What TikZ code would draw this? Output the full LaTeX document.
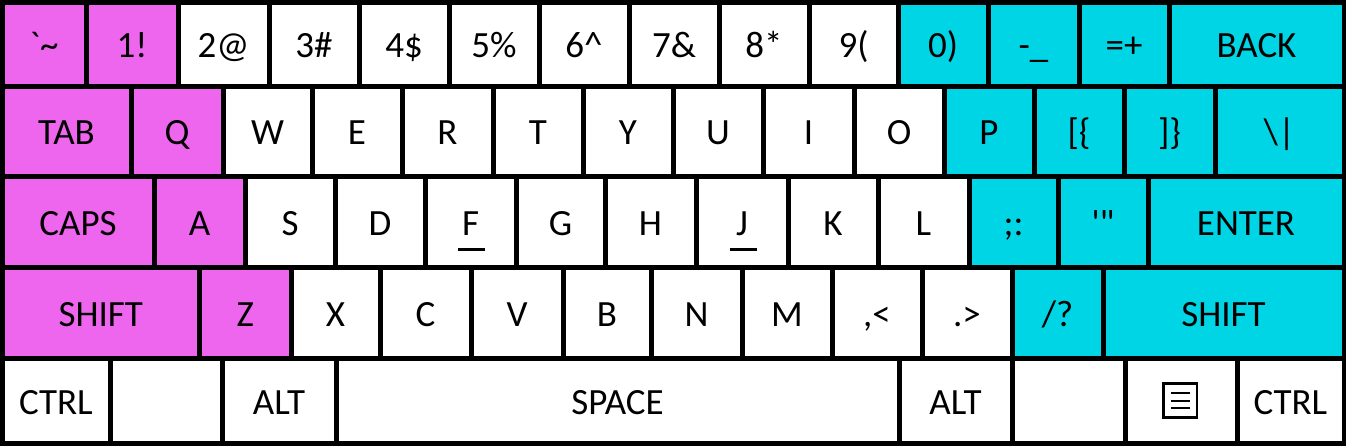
\documentclass[tikz,border=0pt]{standalone}
\usepackage{fontspec}
\newfontfamily\keyfont{Carlito}[Ligatures=TeXOff]
\definecolor{mag}{RGB}{238,102,238}
\definecolor{cya}{RGB}{0,213,229}
\newcommand\kb[7]{%
  \node[keybox, fill=#6, minimum width={#3-#2}, minimum height={#5-#4}] (#1) at ({(#2+#3)/2},{(#4+#5)/2}) {#7};}
\begin{document}
\begin{tikzpicture}[x=1pt,y=-1pt,
  keybox/.style={draw=black, line width=5pt, inner sep=0pt, outer sep=0pt,
    font=\keyfont\fontsize{37}{40}\selectfont, text height=27.5pt, text depth=0pt},
  homebar/.style={line width=3pt},
  menuicon/.style={line width=2.7pt}]
\useasboundingbox (0,0) rectangle (1346,445);
% row 1
\kb{a1}{2}{86}{2}{86}{mag}{`\textasciitilde}
\kb{a2}{86}{178}{2}{86}{mag}{1!}
\kb{a3}{178}{269}{2}{86}{white}{2@}
\kb{a4}{269}{359}{2}{86}{white}{3\#}
\kb{a5}{359}{449}{2}{86}{white}{4\$}
\kb{a6}{449}{539}{2}{86}{white}{5\%}
\kb{a7}{539}{629}{2}{86}{white}{6\textasciicircum}
\kb{a8}{629}{719}{2}{86}{white}{7\&}
\kb{a9}{719}{809}{2}{86}{white}{8*}
\kb{a10}{809}{898}{2}{86}{white}{9(}
\kb{a11}{898}{988}{2}{86}{cya}{0)}
\kb{a12}{988}{1079}{2}{86}{cya}{-\_}
\kb{a13}{1079}{1169}{2}{86}{cya}{=+}
\kb{a14}{1169}{1344}{2}{86}{cya}{BACK}
% row 2
\kb{b1}{2}{131}{86}{176}{mag}{TAB}
\kb{b2}{131}{223}{86}{176}{mag}{Q}
\kb{b3}{223}{312}{86}{176}{white}{W}
\kb{b4}{312}{402}{86}{176}{white}{E}
\kb{b5}{402}{493}{86}{176}{white}{R}
\kb{b6}{493}{583}{86}{176}{white}{T}
\kb{b7}{583}{673}{86}{176}{white}{Y}
\kb{b8}{673}{763}{86}{176}{white}{U}
\kb{b9}{763}{854}{86}{176}{white}{I}
\kb{b10}{854}{944}{86}{176}{white}{O}
\kb{b11}{944}{1034}{86}{176}{cya}{P}
\kb{b12}{1034}{1124}{86}{176}{cya}{[\{}
\kb{b13}{1124}{1215}{86}{176}{cya}{]\}}
\kb{b14}{1215}{1344}{86}{176}{cya}{\textbackslash|}
% row 3
\kb{c1}{2}{154}{176}{267}{mag}{CAPS}
\kb{c2}{154}{245}{176}{267}{mag}{A}
\kb{c3}{245}{335}{176}{267}{white}{S}
\kb{c4}{335}{425}{176}{267}{white}{D}
\kb{c5}{425}{516}{176}{267}{white}{F}
\kb{c6}{516}{605}{176}{267}{white}{G}
\kb{c7}{605}{696}{176}{267}{white}{H}
\kb{c8}{696}{788}{176}{267}{white}{J}
\kb{c9}{788}{878}{176}{267}{white}{K}
\kb{c10}{878}{969}{176}{267}{white}{L}
\kb{c11}{969}{1058}{176}{267}{cya}{;:}
\kb{c12}{1058}{1148}{176}{267}{cya}{'"}
\kb{c13}{1148}{1344}{176}{267}{cya}{ENTER}
% row 4
\kb{d1}{2}{199.5}{267}{358}{mag}{SHIFT}
\kb{d2}{199.5}{291}{267}{358}{mag}{Z}
\kb{d3}{291}{380}{267}{358}{white}{X}
\kb{d4}{380}{471}{267}{358}{white}{C}
\kb{d5}{471}{563}{267}{358}{white}{V}
\kb{d6}{563}{651}{267}{358}{white}{B}
\kb{d7}{651}{742}{267}{358}{white}{N}
\kb{d8}{742}{832}{267}{358}{white}{M}
\kb{d9}{832}{922}{267}{358}{white}{,<}
\kb{d10}{922}{1012}{267}{358}{white}{.>}
\kb{d11}{1012}{1103}{267}{358}{cya}{/?}
\kb{d12}{1103}{1344}{267}{358}{cya}{SHIFT}
% row 5
\kb{e1}{2}{110}{358}{443}{white}{CTRL}
\kb{e2}{110}{222}{358}{443}{white}{}
\kb{e3}{222}{336}{358}{443}{white}{ALT}
\kb{e4}{336}{899}{358}{443}{white}{SPACE}
\kb{e5}{899}{1012}{358}{443}{white}{ALT}
\kb{e6}{1012}{1125}{358}{443}{white}{}
\kb{e7}{1125}{1237}{358}{443}{white}{}
\kb{e8}{1237}{1344}{358}{443}{white}{CTRL}
% home-row bars
\draw[homebar] ([shift={(-12.5,27.5)}]c5.center) -- ([shift={(14.5,27.5)}]c5.center);
\draw[homebar] ([shift={(-12.5,27.5)}]c8.center) -- ([shift={(14.5,27.5)}]c8.center);
% menu icon
\draw[menuicon] ([shift={(-17.5,-17)}]e7.center) rectangle ([shift={(16,17)}]e7.center);
\draw[line width=2.2pt] ([shift={(-10,-7.5)}]e7.center) -- ([shift={(9,-7.5)}]e7.center);
\draw[line width=2.2pt] ([shift={(-10,0.2)}]e7.center) -- ([shift={(9,0.2)}]e7.center);
\draw[line width=2.2pt] ([shift={(-10,7.5)}]e7.center) -- ([shift={(9,7.5)}]e7.center);
\end{tikzpicture}
\end{document}
